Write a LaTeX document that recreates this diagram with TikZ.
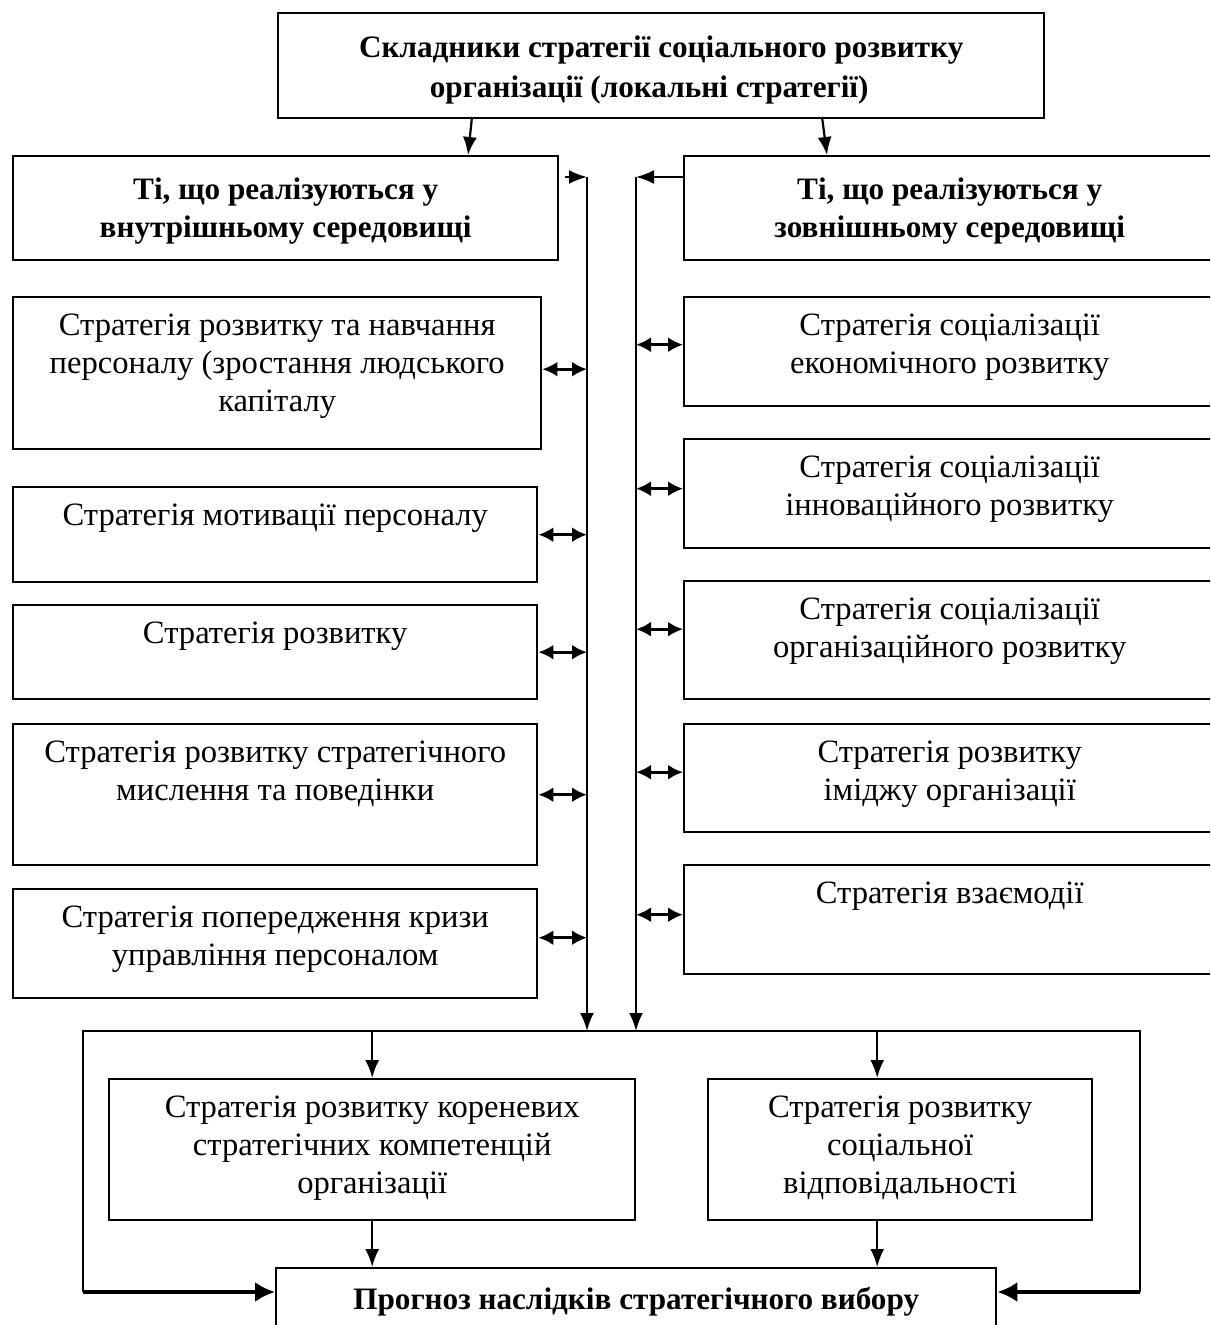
\documentclass[tikz,border=0pt]{standalone}
\usepackage{fontspec}
\setmainfont{Liberation Serif}
\usetikzlibrary{arrows.meta}

\newcommand{\cell}[4][6pt]{\parbox[c][#3][t]{#2}{\centering\vspace*{#1}\strut #4\par}}

\begin{document}
\begin{tikzpicture}[
  x=0.5pt, y=-0.5pt,
  every node/.style = {inner sep=0pt, font=\fontsize{16.3}{19}\selectfont},
  box/.style = {draw, line width=1.2pt, anchor=north west},
  head/.style = {box, font=\fontsize{15.6}{19}\selectfont\bfseries},
  link/.style = {line width=1.1pt, -{Latex[length=9pt,width=7pt]}},
  both/.style = {line width=1.4pt, {Latex[length=7.5pt,width=7.5pt]}-{Latex[length=7.5pt,width=7.5pt]}},
  feed/.style = {line width=1.6pt, -{Latex[length=10pt,width=10pt]}}
]
\useasboundingbox (0,0) rectangle (1210,1325);
\clip (0,0) rectangle (1210,1325);

\node[head, font=\fontsize{15.6}{20}\selectfont\bfseries] (top) at (277,12)
  {\cell[8pt]{383pt}{52.5pt}{Складники стратегії соціального розвитку\\ організації (локальні стратегії)\hspace*{12pt}}};
\node[head] (lh) at (12,155) {\cell[8.5pt]{272.5pt}{52pt}{Ті, що реалізуються у\\ внутрішньому середовищі}};
\node[head] (rh) at (683,155) {\cell[8.5pt]{265.5pt}{52pt}{Ті, що реалізуються у\\ зовнішньому середовищі}};

% inner environment
\node[box] (l1) at (12,296) {\cell{264pt}{76pt}{Стратегія розвитку та навчання\\ персоналу (зростання людського\\ капіталу}};
\node[box] (l2) at (12,486) {\cell{262pt}{47.5pt}{Стратегія мотивації персоналу}};
\node[box] (l3) at (12,604) {\cell{262pt}{47pt}{Стратегія розвитку}};
\node[box] (l4) at (12,723) {\cell{262pt}{70.5pt}{Стратегія розвитку стратегічного\\ мислення та поведінки}};
\node[box] (l5) at (12,888) {\cell{262pt}{54.5pt}{Стратегія попередження кризи\\ управління персоналом}};

% outer environment
\node[box] (r1) at (683,296) {\cell{265.5pt}{54.5pt}{Стратегія соціалізації\\ економічного розвитку}};
\node[box] (r2) at (683,438) {\cell{265.5pt}{54.5pt}{Стратегія соціалізації\\ інноваційного розвитку}};
\node[box] (r3) at (683,580) {\cell{265.5pt}{59pt}{Стратегія соціалізації\\ організаційного розвитку}};
\node[box] (r4) at (683,723) {\cell{265.5pt}{54pt}{Стратегія розвитку\\ іміджу організації}};
\node[box] (r5) at (683,864) {\cell{265.5pt}{54.5pt}{Стратегія взаємодії}};

\node[box] (in1) at (108,1078) {\cell{263pt}{70.5pt}{Стратегія розвитку кореневих\\ стратегічних компетенцій\\ організації}};
\node[box] (in2) at (707,1078) {\cell{192pt}{70.5pt}{Стратегія розвитку\\ соціальної\\ відповідальності}};
\node[head] (bot) at (275,1267) {\cell[7.5pt]{360pt}{45pt}{Прогноз наслідків стратегічного вибору}};

\coordinate (tl) at (587,177);
\coordinate (tr) at (636,177);
\coordinate (fl) at (83,1292);
\coordinate (fr) at (1140,1292);
\coordinate (ft) at (83,1031);
\coordinate (lhs) at ([xshift=3pt]lh.north east);
\coordinate (c1) at (472,117);
\coordinate (c2) at (822,117);
\coordinate (m2) at ([xshift=-11.5pt]in2.north);
\coordinate (n2) at ([xshift=-11.5pt]in2.south);

\draw[link] (c1) -- (lh.north -| 468,0);
\draw[link] (c2) -- (rh.north -| 827,0);
\draw[link] (lhs |- tl) -- (tl);
\draw[link] (rh.north west |- tr) -- (tr);
\draw[link] (tl) -- (tl |- ft);
\draw[link] (tr) -- (tr |- ft);

\foreach \b/\s in {l1/2pt, l2/0pt, l3/0pt, l4/0pt, l5/3pt}{
  \coordinate (a) at ([yshift=\s]\b.east);
  \draw[both] (a) -- (a -| tl);
}
\foreach \b/\s in {r1/3.5pt, r2/2.5pt, r3/5.5pt, r4/3pt, r5/2.5pt}{
  \coordinate (a) at ([yshift=\s]\b.west);
  \draw[both] (a) -- (a -| tr);
}

\draw[line width=1pt] (fl) |- (fr |- ft) -- (fr);
\draw[feed] (fl) -- (bot.west |- fl);
\draw[feed] (fr) -- (bot.east |- fr);

\draw[link] (in1.north |- ft) -- (in1.north);
\draw[link] (m2 |- ft) -- (m2);
\draw[link] (in1.south) -- (in1.south |- bot.north);
\draw[link] (n2) -- (n2 |- bot.north);
\end{tikzpicture}
\end{document}
